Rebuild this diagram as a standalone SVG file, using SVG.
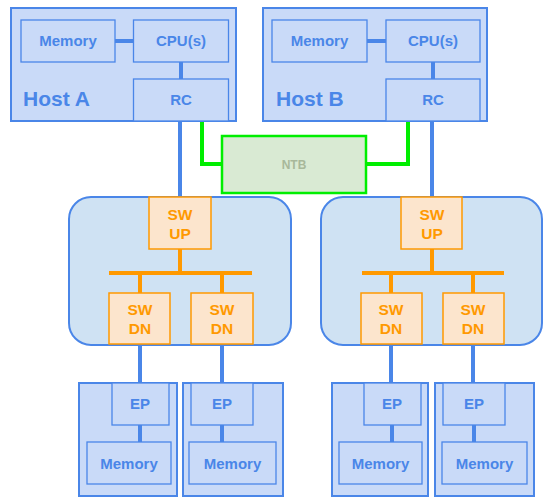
<svg xmlns="http://www.w3.org/2000/svg" width="556" height="502" viewBox="0 0 556 502">
<style>
.host{fill:#c9daf8;stroke:#4a86e8;stroke-width:2}
.box{fill:#c9daf8;stroke:#4a86e8;stroke-width:1.3}
.sw{fill:#cfe2f3;stroke:#4a86e8;stroke-width:2}
.port{fill:#fce5cd;stroke:#ff9900;stroke-width:1.5}
.bt{font-family:"Liberation Sans",Arial,sans-serif;font-weight:bold;fill:#4a86e8;font-size:15px;text-anchor:middle}
.ht{font-family:"Liberation Sans",Arial,sans-serif;font-weight:bold;fill:#4a86e8;font-size:21px}
.ot{font-family:"Liberation Sans",Arial,sans-serif;font-weight:bold;fill:#ff9900;font-size:15.5px;text-anchor:middle}
.nt{font-family:"Liberation Sans",Arial,sans-serif;font-weight:bold;fill:#a8b89a;font-size:12px;text-anchor:middle}
.bl{stroke:#4a86e8;stroke-width:4;fill:none}
.ol{stroke:#ff9900;stroke-width:4;fill:none}
.gl{stroke:#00ee00;stroke-width:4;fill:none}
</style>
<g id="hostA">
<rect class="host" x="11" y="8" width="225" height="113"/>
<text class="ht" x="23" y="106">Host A</text>
</g>
<g id="memA"><rect class="box" x="21" y="20" width="94" height="42"/><text class="bt" x="68" y="46">Memory</text></g>
<g id="cpuA"><rect class="box" x="133.5" y="20" width="95" height="42"/><text class="bt" x="181" y="46">CPU(s)</text></g>
<g id="rcA"><rect class="box" x="133.5" y="79" width="95" height="42"/><text class="bt" x="181" y="105">RC</text></g>
<g id="hostB">
<rect class="host" x="263" y="8" width="224" height="113"/>
<text class="ht" x="276" y="106">Host B</text>
</g>
<g id="memB"><rect class="box" x="272" y="20" width="95" height="42"/><text class="bt" x="319.5" y="46">Memory</text></g>
<g id="cpuB"><rect class="box" x="386" y="20" width="94" height="42"/><text class="bt" x="433" y="46">CPU(s)</text></g>
<g id="rcB"><rect class="box" x="386" y="79" width="94" height="42"/><text class="bt" x="433" y="105">RC</text></g>
<g id="ntb"><rect x="222" y="136" width="144" height="57" fill="#d9ead3" stroke="#00ee00" stroke-width="2.5"/><text class="nt" x="294" y="169">NTB</text></g>
<g id="switchA">
<rect class="sw" x="69" y="197" width="222" height="148" rx="22"/>
</g>
<g id="swupA"><rect class="port" x="149" y="197" width="62" height="52"/><text class="ot" x="180" y="220">SW</text><text class="ot" x="180" y="239">UP</text></g>
<g id="swdnA1"><rect class="port" x="109" y="293" width="61" height="51"/><text class="ot" x="140" y="315">SW</text><text class="ot" x="140" y="334">DN</text></g>
<g id="swdnA2"><rect class="port" x="191" y="293" width="62" height="51"/><text class="ot" x="222" y="315">SW</text><text class="ot" x="222" y="334">DN</text></g>
<g id="switchB">
<rect class="sw" x="321" y="197" width="221" height="148" rx="22"/>
</g>
<g id="swupB"><rect class="port" x="401" y="197" width="61" height="52"/><text class="ot" x="432" y="220">SW</text><text class="ot" x="432" y="239">UP</text></g>
<g id="swdnB1"><rect class="port" x="361" y="293" width="61" height="51"/><text class="ot" x="391" y="315">SW</text><text class="ot" x="391" y="334">DN</text></g>
<g id="swdnB2"><rect class="port" x="443" y="293" width="61" height="51"/><text class="ot" x="473" y="315">SW</text><text class="ot" x="473" y="334">DN</text></g>
<g id="dev1">
<rect class="host" x="79" y="383" width="98" height="113"/>
<rect class="box" x="112" y="383" width="57" height="42"/><text class="bt" x="140" y="409">EP</text>
<rect class="box" x="87" y="442" width="84" height="42"/><text class="bt" x="129" y="469">Memory</text>
</g>
<g id="dev2">
<rect class="host" x="183" y="383" width="100" height="113"/>
<rect class="box" x="191" y="383" width="62" height="42"/><text class="bt" x="222" y="409">EP</text>
<rect class="box" x="189" y="442" width="87" height="42"/><text class="bt" x="232.5" y="469">Memory</text>
</g>
<g id="dev3">
<rect class="host" x="332" y="383" width="96" height="113"/>
<rect class="box" x="364" y="383" width="57" height="42"/><text class="bt" x="392" y="409">EP</text>
<rect class="box" x="339" y="442" width="83" height="42"/><text class="bt" x="380.5" y="469">Memory</text>
</g>
<g id="dev4">
<rect class="host" x="435" y="383" width="99" height="113"/>
<rect class="box" x="443" y="383" width="62" height="42"/><text class="bt" x="474" y="409">EP</text>
<rect class="box" x="442" y="442" width="85" height="42"/><text class="bt" x="484.5" y="469">Memory</text>
</g>
<g id="connectors">
<line class="bl" x1="115" y1="41" x2="133" y2="41"/>
<line class="bl" x1="181" y1="62" x2="181" y2="79"/>
<line class="bl" x1="367" y1="41" x2="386" y2="41"/>
<line class="bl" x1="433" y1="62" x2="433" y2="79"/>
<line class="bl" x1="180" y1="122" x2="180" y2="196"/>
<line class="bl" x1="432" y1="122" x2="432" y2="196"/>
<polyline class="gl" points="202,122 202,164 221,164"/>
<polyline class="gl" points="367,164 408,164 408,122"/>
<line class="ol" x1="180" y1="249" x2="180" y2="273"/>
<line class="ol" x1="109" y1="273" x2="252" y2="273"/>
<line class="ol" x1="140" y1="273" x2="140" y2="293"/>
<line class="ol" x1="222" y1="273" x2="222" y2="293"/>
<line class="ol" x1="432" y1="249" x2="432" y2="273"/>
<line class="ol" x1="362" y1="273" x2="504" y2="273"/>
<line class="ol" x1="391" y1="273" x2="391" y2="293"/>
<line class="ol" x1="473" y1="273" x2="473" y2="293"/>
<line class="bl" x1="140" y1="345" x2="140" y2="382"/>
<line class="bl" x1="222" y1="345" x2="222" y2="382"/>
<line class="bl" x1="391" y1="345" x2="391" y2="382"/>
<line class="bl" x1="473" y1="345" x2="473" y2="382"/>
<line class="bl" x1="140" y1="425" x2="140" y2="442"/>
<line class="bl" x1="222" y1="425" x2="222" y2="442"/>
<line class="bl" x1="392" y1="425" x2="392" y2="442"/>
<line class="bl" x1="474" y1="425" x2="474" y2="442"/>
</g>
</svg>
